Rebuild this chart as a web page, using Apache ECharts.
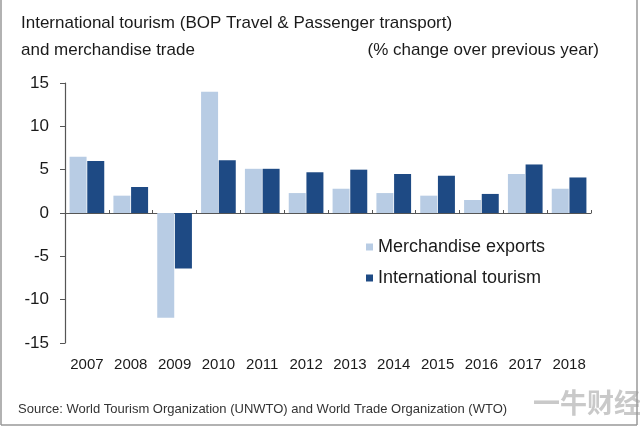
<!DOCTYPE html>
<html>
<head>
<meta charset="utf-8">
<script src="https://cdn.jsdelivr.net/npm/echarts@6/dist/echarts.min.js"></script>
<style>
    html, body { margin: 0; padding: 0; background: #fff; }
    #chart { width: 640px; height: 427px; }
</style>
</head>
<body>
<div id="chart"></div>
<script>
// years on the x axis
var years = ['2007', '2008', '2009', '2010', '2011', '2012', '2013', '2014', '2015', '2016', '2017', '2018'];
// % change over previous year
var merchandiseExports = [6.5, 2.0, -12.1, 14.0, 5.1, 2.3, 2.8, 2.3, 2.0, 1.5, 4.5, 2.8];
var internationalTourism = [6.0, 3.0, -6.4, 6.1, 5.1, 4.7, 5.0, 4.5, 4.3, 2.2, 5.6, 4.1];
var seriesNames = ['Merchandise exports', 'International tourism'];

var chartDom = document.getElementById('chart');
var myChart = echarts.init(chartDom);
var option;

var font = '"Liberation Sans", Arial, sans-serif';

option = {
    animation: false,
    textStyle: {
        fontFamily: font,
        color: '#222'
    },
    grid: {
        left: 65,
        right: 49,
        top: 83,
        bottom: 84
    },
    legend: {
        orient: 'vertical',
        left: 366,
        top: 238,
        padding: 0,
        itemGap: 13,
        itemWidth: 7,
        itemHeight: 7,
        icon: 'rect',
        data: seriesNames,
        textStyle: {
            fontSize: 18,
            lineHeight: 18,
            color: '#1a1a1a'
        }
    },
    xAxis: [
        {
            type: 'category',
            data: years,
            position: 'bottom',
            axisLine: { show: false, onZero: false },
            axisTick: { show: false },
            axisLabel: {
                fontSize: 15,
                color: '#1a1a1a',
                margin: 14
            }
        },
        {
            type: 'category',
            data: years,
            position: 'top',
            axisLine: {
                show: true,
                onZero: true,
                lineStyle: { color: '#555', width: 1.2 }
            },
            axisTick: {
                show: true,
                inside: false,
                length: 3,
                lineStyle: { color: '#555' }
            },
            axisLabel: { show: false }
        }
    ],
    yAxis: {
        type: 'value',
        min: -15,
        max: 15,
        interval: 5,
        axisLine: {
            show: true,
            lineStyle: { color: '#555', width: 1.2 }
        },
        axisTick: {
            show: true,
            length: 5,
            lineStyle: { color: '#555' }
        },
        splitLine: { show: false },
        axisLabel: {
            fontSize: 17,
            color: '#1a1a1a',
            margin: 16
        }
    },
    graphic: [
        {
            type: 'text', x: 21, y: 23,
            style: { text: 'International tourism (BOP Travel & Passenger transport)', font: '17px ' + font, fill: '#1a1a1a', verticalAlign: 'middle' }
        },
        {
            type: 'text', x: 21, y: 50,
            style: { text: 'and merchandise trade', font: '17px ' + font, fill: '#1a1a1a', verticalAlign: 'middle' }
        },
        {
            type: 'text', x: 599, y: 50,
            style: { text: '(% change over previous year)', font: '17px ' + font, fill: '#1a1a1a', align: 'right', verticalAlign: 'middle' }
        },
        {
            type: 'text', x: 18, y: 409,
            style: { text: 'Source: World Tourism Organization (UNWTO) and World Trade Organization (WTO)', font: '13px ' + font, fill: '#333', verticalAlign: 'middle' }
        },
        {
            type: 'text', x: 533, y: 403,
            style: { text: '一牛财经', font: 'bold 27px "Noto Sans CJK SC"', fill: 'rgba(120,120,120,0.4)', verticalAlign: 'middle' }
        },
        // frame
        { type: 'line', shape: { x1: 1, y1: 0, x2: 1, y2: 425 }, style: { stroke: '#999', lineWidth: 1.5 } },
        { type: 'line', shape: { x1: 637, y1: 0, x2: 637, y2: 425 }, style: { stroke: '#999', lineWidth: 1.5 } },
        { type: 'line', shape: { x1: 1, y1: 425, x2: 637, y2: 425 }, style: { stroke: '#999', lineWidth: 1.5 } }
    ],
    series: [
        {
            name: seriesNames[0],
            type: 'bar',
            xAxisIndex: 0,
            data: merchandiseExports,
            barWidth: 17,
            barGap: '4%',
            itemStyle: { color: '#b8cce4' }
        },
        {
            name: seriesNames[1],
            type: 'bar',
            xAxisIndex: 0,
            data: internationalTourism,
            barWidth: 17,
            itemStyle: { color: '#1e4a84' }
        }
    ]
};

option && myChart.setOption(option);
</script>
</body>
</html>
